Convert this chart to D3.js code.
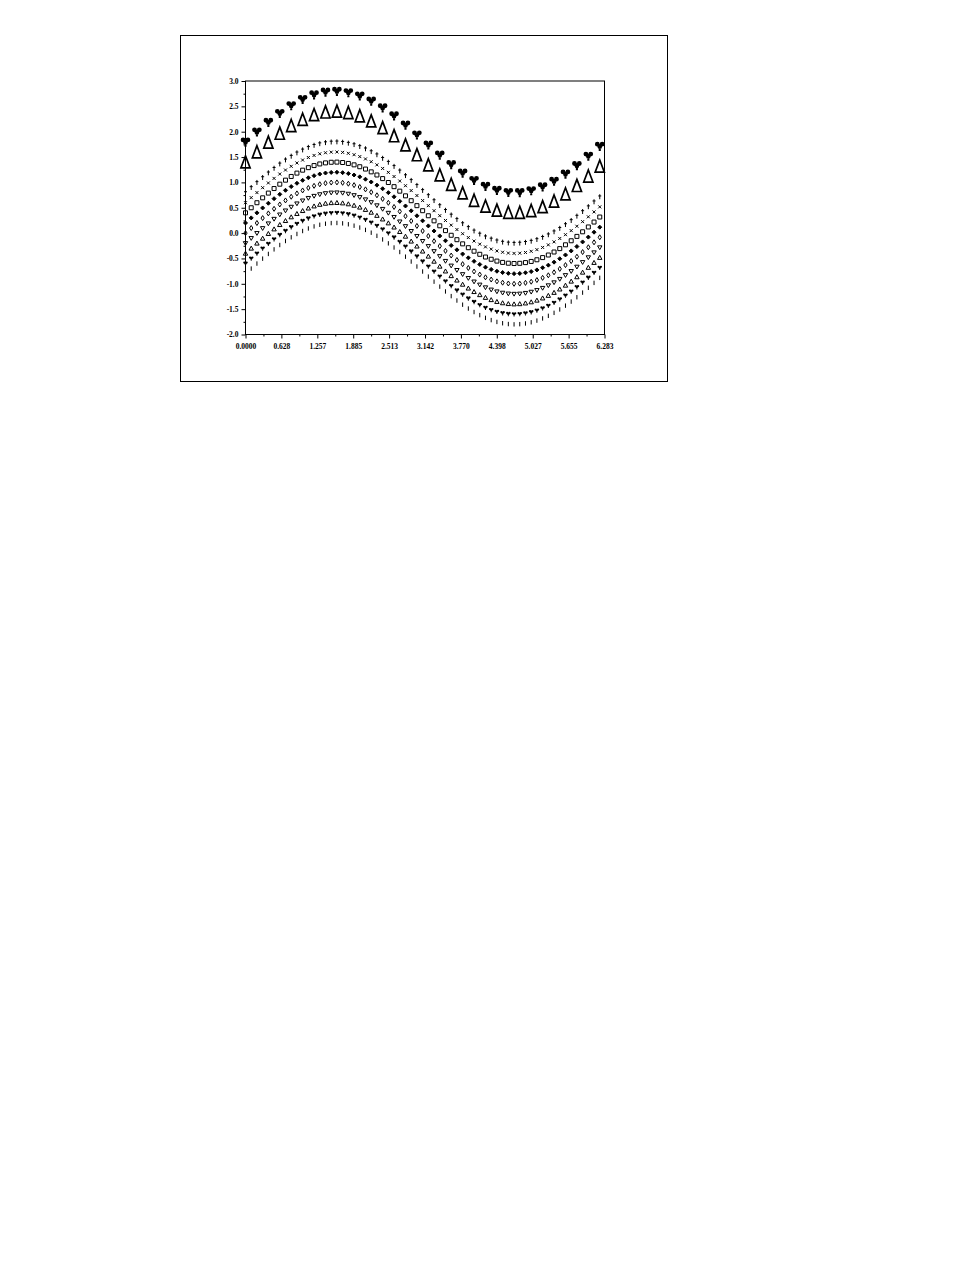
<!DOCTYPE html>
<html><head><meta charset="utf-8">
<script src="https://cdn.jsdelivr.net/npm/d3@7"></script>
<style>body{margin:0;background:#fff}svg{display:block}</style>
</head><body>
<svg id="c" width="978" height="1265"></svg>
<script>
// ---- data ----
const xFine = [0.0,0.1,0.2,0.3,0.4,0.5,0.6,0.7,0.8,0.9,1.0,1.1,1.2,1.3,1.4,1.5,1.6,1.7,1.8,1.9,2.0,2.1,2.2,2.3,2.4,2.5,2.6,2.7,2.8,2.9,3.0,3.1,3.2,3.3,3.4,3.5,3.6,3.7,3.8,3.9,4.0,4.1,4.2,4.3,4.4,4.5,4.6,4.7,4.8,4.9,5.0,5.1,5.2,5.3,5.4,5.5,5.6,5.7,5.8,5.9,6.0,6.1,6.2];
const baseFine = [0.000,0.100,0.199,0.296,0.389,0.479,0.565,0.644,0.717,0.783,0.841,0.891,0.932,0.964,0.985,0.997,1.000,0.992,0.974,0.946,0.909,0.863,0.808,0.746,0.675,0.598,0.516,0.427,0.335,0.239,0.141,0.042,-0.058,-0.158,-0.256,-0.351,-0.443,-0.530,-0.612,-0.688,-0.757,-0.818,-0.872,-0.916,-0.952,-0.978,-0.994,-1.000,-0.996,-0.982,-0.959,-0.926,-0.883,-0.832,-0.773,-0.706,-0.631,-0.551,-0.465,-0.374,-0.279,-0.182,-0.083];
const xCoarse = [0.0,0.2,0.4,0.6,0.8,1.0,1.2,1.4,1.6,1.8,2.0,2.2,2.4,2.6,2.8,3.0,3.2,3.4,3.6,3.8,4.0,4.2,4.4,4.6,4.8,5.0,5.2,5.4,5.6,5.8,6.0,6.2];
const baseCoarse = [0.000,0.199,0.389,0.565,0.717,0.841,0.932,0.985,1.000,0.974,0.909,0.808,0.675,0.516,0.335,0.141,-0.058,-0.256,-0.443,-0.612,-0.757,-0.872,-0.952,-0.994,-0.996,-0.959,-0.883,-0.773,-0.631,-0.465,-0.279,-0.083];
const fineOffsets = [-0.8,-0.6,-0.4,-0.2,0.0,0.2,0.4,0.6,0.8];
const fineMarks = ["bar","clubS","triUpS","triDownS","diamond","diamondFill","square","cross","plus"];
const coarseOffsets = [1.4,1.8];
const coarseMarks = ["triUpBig","clubBig"];
const xTickLabels = ["0.0000","0.628","1.257","1.885","2.513","3.142","3.770","4.398","5.027","5.655","6.283"];
const yTickLabels = ["-2.0","-1.5","-1.0","-0.5","0.0","0.5","1.0","1.5","2.0","2.5","3.0"];

// ---- layout ----
const svg = d3.select("#c");
const L = 245.5, R = 604.5, T = 81, B = 334.5;
const x = d3.scaleLinear().domain([0, 6.283]).range([L, R]);
const y = d3.scaleLinear().domain([-2, 3]).range([B, T]);

svg.append("rect").attr("x",180.5).attr("y",35.5).attr("width",487).attr("height",346)
  .attr("fill","none").attr("stroke","#000").attr("stroke-width",1);

function circ(cx,cy,r){return `M${cx-r},${cy}a${r},${r} 0 1,0 ${2*r},0a${r},${r} 0 1,0 ${-2*r},0Z`;}
function club(s){
  return circ(-2.3*s,-1.8*s,2.3*s)+circ(2.3*s,-1.8*s,2.3*s)+circ(0,0.6*s,2.2*s)+
    `M${-1*s},${1*s}V${4.6*s}H${1*s}V${1*s}Z`;
}
const markDefs = {
  plus:{d:"M0,-2.5V2.5M-1.5,-0.8H1.5",fill:"none"},
  cross:{d:"M-1.5,-1.5L1.5,1.5M1.5,-1.5L-1.5,1.5",fill:"none"},
  square:{d:"M-2,-2H2V2H-2Z",fill:"none"},
  diamondFill:{d:"M0,-2L2,0L0,2L-2,0Z",fill:"#000"},
  diamond:{d:"M0,-2.5L1.6,0L0,2.5L-1.6,0Z",fill:"none"},
  triDownS:{d:"M-2.2,-1.6H2.2L0,2.2Z",fill:"none"},
  triUpS:{d:"M0,-2.2L2.2,1.8H-2.2Z",fill:"none"},
  clubS:{d:club(0.5),fill:"#000",nostroke:true},
  bar:{d:"M0,-2.2V2.2",fill:"none"},
  triUpBig:{d:"M0,-6.3L4.6,5.8H-4.6Z",fill:"none",sw:1.7},
  clubBig:{d:club(1.05),fill:"#000",nostroke:true}
};

// plot frame
svg.append("rect").attr("x",L).attr("y",T).attr("width",R-L).attr("height",B-T)
  .attr("fill","none").attr("stroke","#000").attr("stroke-width",1);

// axes
const fontFam = "'Liberation Serif', 'DejaVu Serif', serif";
const yAxis = d3.axisLeft(y).tickValues(d3.range(11).map(i=>-2+0.5*i))
  .tickFormat((d,i)=>yTickLabels[i]).tickSize(4).tickPadding(3);
const gy = svg.append("g").attr("transform",`translate(${L},0)`).call(yAxis);
gy.select(".domain").remove();
svg.append("g").attr("transform",`translate(${L},0)`)
  .call(d3.axisLeft(y).tickValues(d3.range(10).map(i=>-1.75+0.5*i)).tickSize(2).tickFormat(""))
  .select(".domain").remove();
const xVals = xTickLabels.map(s=>+s);
const xAxis = d3.axisBottom(x).tickValues(xVals).tickFormat((d,i)=>xTickLabels[i]).tickSize(4).tickPadding(5);
const gx = svg.append("g").attr("transform",`translate(0,${B})`).call(xAxis);
gx.select(".domain").remove();
svg.append("g").attr("transform",`translate(0,${B})`)
  .call(d3.axisBottom(x).tickValues(d3.range(10).map(i=>(xVals[i]+xVals[i+1])/2)).tickSize(2).tickFormat(""))
  .select(".domain").remove();
svg.selectAll(".tick text").attr("font-family",fontFam).attr("font-size",7.5).attr("font-weight","bold").attr("fill","#000");
svg.selectAll(".tick line").attr("stroke","#000");

// series
function drawSeries(xs, base, off, mk){
  const def = markDefs[mk];
  svg.append("g").selectAll("path").data(xs.map((xv,i)=>[xv, base[i]+off]))
    .join("path")
    .attr("transform",d=>`translate(${x(d[0])},${y(d[1])})`)
    .attr("d",def.d)
    .attr("fill",def.fill)
    .attr("stroke",def.nostroke?"none":"#000")
    .attr("stroke-width",def.sw||1);
}
fineOffsets.forEach((o,k)=>drawSeries(xFine, baseFine, o, fineMarks[k]));
coarseOffsets.forEach((o,k)=>drawSeries(xCoarse, baseCoarse, o, coarseMarks[k]));
</script>
</body></html>
